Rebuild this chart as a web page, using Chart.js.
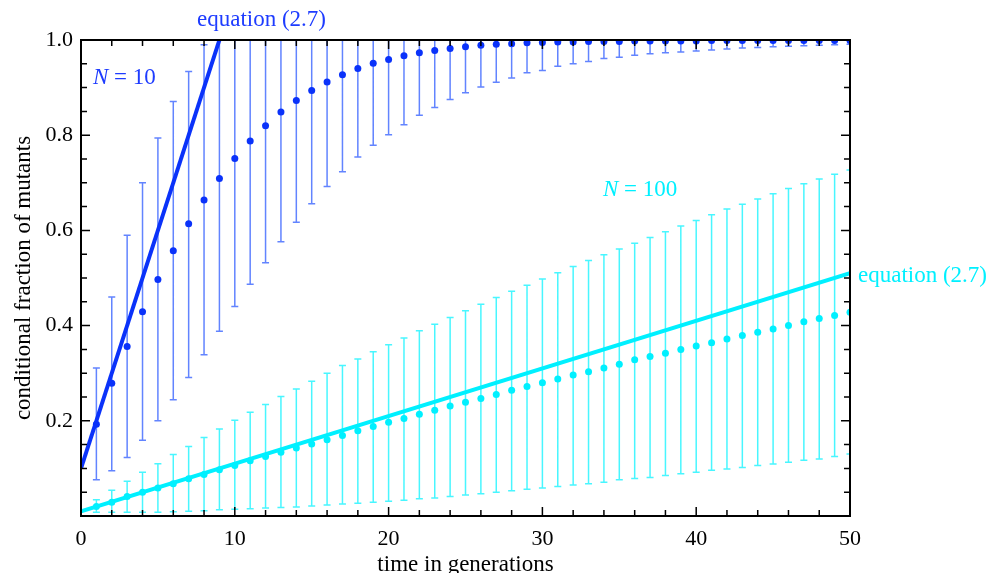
<!DOCTYPE html>
<html>
<head>
<meta charset="utf-8">
<script src="https://cdn.jsdelivr.net/npm/chart.js@4.4.1/dist/chart.umd.min.js"></script>
<style>
  html, body { margin: 0; padding: 0; background: #fff; }
  #wrap { width: 992px; height: 573px; position: relative; }
</style>
</head>
<body>
<div id="wrap"><canvas id="fractionCanvas"></canvas></div>
<script>
// generations (x values of the simulated points)
const generations = [1, 2, 3, 4, 5, 6, 7, 8, 9, 10, 11, 12, 13, 14, 15, 16, 17, 18, 19, 20,
    21, 22, 23, 24, 25, 26, 27, 28, 29, 30, 31, 32, 33, 34, 35, 36, 37, 38, 39, 40,
    41, 42, 43, 44, 45, 46, 47, 48, 49, 50];

// N = 10 : mean and error bar ends
const n10Mean = [0.193, 0.279, 0.356, 0.429, 0.497, 0.557, 0.614, 0.664, 0.709, 0.751,
    0.788, 0.820, 0.849, 0.873, 0.894, 0.912, 0.927, 0.940, 0.951, 0.959,
    0.967, 0.973, 0.978, 0.982, 0.986, 0.989, 0.991, 0.992, 0.994, 0.995,
    0.996, 0.996, 0.997, 0.997, 0.997, 0.998, 0.998, 0.998, 0.998, 0.998,
    0.999, 0.999, 0.999, 0.999, 0.999, 0.999, 0.999, 0.999, 0.999, 0.999];
const n10Low = [0.076, 0.095, 0.123, 0.159, 0.200, 0.244, 0.291, 0.339, 0.388, 0.440,
    0.487, 0.532, 0.576, 0.617, 0.656, 0.692, 0.723, 0.754, 0.779, 0.801,
    0.822, 0.842, 0.858, 0.875, 0.889, 0.901, 0.911, 0.920, 0.931, 0.936,
    0.945, 0.950, 0.955, 0.961, 0.964, 0.968, 0.971, 0.973, 0.975, 0.977,
    0.979, 0.981, 0.983, 0.984, 0.986, 0.987, 0.988, 0.989, 0.990, 0.991];
const n10High = [0.311, 0.460, 0.590, 0.700, 0.794, 0.871, 0.934, 0.990, 1, 1,
    1, 1, 1, 1, 1, 1, 1, 1, 1, 1, 1, 1, 1, 1, 1, 1, 1, 1, 1, 1,
    1, 1, 1, 1, 1, 1, 1, 1, 1, 1, 1, 1, 1, 1, 1, 1, 1, 1, 1, 1];

// N = 100 : mean and error bar ends
const n100Mean = [0.020, 0.029, 0.041, 0.050, 0.059, 0.068, 0.078, 0.087, 0.097, 0.106,
    0.116, 0.125, 0.134, 0.143, 0.151, 0.160, 0.169, 0.179, 0.188, 0.197,
    0.205, 0.214, 0.222, 0.231, 0.239, 0.247, 0.255, 0.264, 0.272, 0.280,
    0.288, 0.296, 0.303, 0.311, 0.319, 0.328, 0.335, 0.342, 0.350, 0.357,
    0.364, 0.372, 0.379, 0.386, 0.393, 0.400, 0.408, 0.415, 0.421, 0.428];
const n100Low = [0.008, 0.008, 0.008, 0.008, 0.008, 0.009, 0.010, 0.011, 0.013, 0.014,
    0.015, 0.017, 0.018, 0.019, 0.021, 0.023, 0.025, 0.027, 0.029, 0.031,
    0.033, 0.036, 0.038, 0.041, 0.044, 0.047, 0.050, 0.053, 0.056, 0.059,
    0.062, 0.065, 0.068, 0.071, 0.076, 0.079, 0.081, 0.085, 0.089, 0.092,
    0.096, 0.099, 0.102, 0.106, 0.109, 0.113, 0.117, 0.120, 0.125, 0.130];
const n100High = [0.034, 0.054, 0.073, 0.092, 0.110, 0.129, 0.146, 0.165, 0.183, 0.201,
    0.218, 0.234, 0.251, 0.267, 0.283, 0.300, 0.316, 0.330, 0.345, 0.360,
    0.374, 0.389, 0.403, 0.417, 0.431, 0.445, 0.459, 0.472, 0.485, 0.498,
    0.511, 0.524, 0.537, 0.549, 0.561, 0.573, 0.585, 0.597, 0.609, 0.621,
    0.633, 0.645, 0.655, 0.666, 0.677, 0.688, 0.698, 0.708, 0.718, 0.727];

// equation (2.7) lines, end points
const eqN10 = [{x: 0, y: 0.10}, {x: 9, y: 1.0}];
const eqN100 = [{x: 0, y: 0.01}, {x: 50, y: 0.51}];

// tick labels
const xTickValues = [0, 10, 20, 30, 40, 50];
const yTickValues = [0.2, 0.4, 0.6, 0.8, 1.0];

const BLUE = 'rgb(10, 50, 250)';
const BLUE_BAR = 'rgba(70, 110, 255, 0.85)';
const CYAN = 'rgb(0, 240, 255)';
const CYAN_BAR = 'rgba(40, 245, 255, 0.85)';
const SERIF = "'Liberation Serif', 'DejaVu Serif', serif";

function toPoints(ys) {
    return generations.map((t, i) => ({x: t, y: ys[i]}));
}

function drawErrorBars(ctx, xs, ys, low, high, color) {
    ctx.strokeStyle = color;
    ctx.lineWidth = 1.5;
    ctx.beginPath();
    generations.forEach((t, i) => {
        const px = xs.getPixelForValue(t);
        const y0 = ys.getPixelForValue(low[i]);
        const y1 = ys.getPixelForValue(high[i]);
        ctx.moveTo(px, y0); ctx.lineTo(px, y1);
        ctx.moveTo(px - 3.5, y0); ctx.lineTo(px + 3.5, y0);
        ctx.moveTo(px - 3.5, y1); ctx.lineTo(px + 3.5, y1);
    });
    ctx.stroke();
}

const errorBarsPlugin = {
    id: 'errorBars',
    beforeDatasetsDraw(chart) {
        const {ctx, chartArea: a, scales: {x, y}} = chart;
        ctx.save();
        ctx.beginPath();
        ctx.rect(a.left, a.top, a.right - a.left, a.bottom - a.top);
        ctx.clip();
        drawErrorBars(ctx, x, y, n100Low, n100High, CYAN_BAR);
        drawErrorBars(ctx, x, y, n10Low, n10High, BLUE_BAR);
        ctx.restore();
    }
};

// box with inward ticks on all four sides, plus the text labels
const framePlugin = {
    id: 'frame',
    afterDraw(chart) {
        const {ctx, chartArea: a, scales: {x, y}} = chart;
        ctx.save();
        ctx.strokeStyle = '#000';
        ctx.lineWidth = 1.5;
        ctx.beginPath();
        for (let v = 2; v < 50; v += 2) {
            const len = v % 10 === 0 ? 9 : 6;
            const px = x.getPixelForValue(v);
            ctx.moveTo(px, a.bottom); ctx.lineTo(px, a.bottom - len);
            ctx.moveTo(px, a.top); ctx.lineTo(px, a.top + len);
        }
        for (let k = 1; k < 20; k++) {
            const len = k % 4 === 0 ? 9 : 6;
            const py = y.getPixelForValue(k * 0.05);
            ctx.moveTo(a.left, py); ctx.lineTo(a.left + len, py);
            ctx.moveTo(a.right, py); ctx.lineTo(a.right - len, py);
        }
        ctx.stroke();
        ctx.lineWidth = 2;
        ctx.strokeRect(a.left, a.top, a.right - a.left, a.bottom - a.top);

        ctx.textBaseline = 'middle';
        ctx.textAlign = 'left';
        ctx.font = '23px ' + SERIF;
        ctx.fillStyle = 'rgb(30, 60, 255)';
        ctx.fillText('equation (2.7)', 197, 20);
        ctx.fillStyle = CYAN;
        ctx.fillText('equation (2.7)', x.getPixelForValue(50) + 8, y.getPixelForValue(0.51) + 3);

        function nLabel(text, lx, ly, color) {
            ctx.fillStyle = color;
            ctx.font = 'italic 23px ' + SERIF;
            ctx.fillText('N', lx, ly);
            const w = ctx.measureText('N').width;
            ctx.font = '23px ' + SERIF;
            ctx.fillText(' = ' + text, lx + w, ly);
        }
        nLabel('10', 93, 78, 'rgb(30, 60, 255)');
        nLabel('100', 603, 190, CYAN);
        ctx.restore();
    }
};

const ctx = document.getElementById('fractionCanvas').getContext('2d');
const fractionChart = new Chart(ctx, {
    type: 'scatter',
    data: {
        datasets: [
            {
                type: 'line',
                label: 'equation (2.7), N = 10',
                data: eqN10,
                borderColor: BLUE,
                borderWidth: 4,
                pointRadius: 0,
                fill: false
            },
            {
                type: 'line',
                label: 'equation (2.7), N = 100',
                data: eqN100,
                borderColor: CYAN,
                borderWidth: 4,
                pointRadius: 0,
                fill: false
            },
            {
                label: 'N = 10',
                data: toPoints(n10Mean),
                backgroundColor: BLUE,
                borderWidth: 0,
                pointRadius: 3.5
            },
            {
                label: 'N = 100',
                data: toPoints(n100Mean),
                backgroundColor: CYAN,
                borderWidth: 0,
                pointRadius: 3.5
            }
        ]
    },
    plugins: [errorBarsPlugin, framePlugin],
    options: {
        responsive: true,
        maintainAspectRatio: false,
        animation: false,
        layout: {
            padding: {top: 40, right: 142, left: 0, bottom: 0}
        },
        plugins: {
            legend: {display: false},
            tooltip: {enabled: false}
        },
        scales: {
            x: {
                type: 'linear',
                min: 0,
                max: 50,
                afterBuildTicks: s => { s.ticks = xTickValues.map(v => ({value: v})); },
                afterFit: s => { s.height = 57; },
                grid: {display: false, drawTicks: false},
                border: {display: false},
                ticks: {
                    color: '#000',
                    padding: 10,
                    maxRotation: 0,
                    font: {family: SERIF, size: 22}
                },
                title: {
                    display: true,
                    text: 'time in generations',
                    color: '#000',
                    padding: {top: 0, bottom: -3},
                    font: {family: SERIF, size: 23, lineHeight: 1}
                }
            },
            y: {
                type: 'linear',
                min: 0,
                max: 1,
                afterBuildTicks: s => { s.ticks = yTickValues.map(v => ({value: v})); },
                afterFit: s => { s.width = 81; },
                grid: {display: false, drawTicks: false},
                border: {display: false},
                ticks: {
                    color: '#000',
                    padding: 8,
                    font: {family: SERIF, size: 22},
                    callback: v => v.toFixed(1)
                },
                title: {
                    display: true,
                    text: 'conditional fraction of mutants',
                    color: '#000',
                    padding: {top: 10, bottom: 0},
                    font: {family: SERIF, size: 23}
                }
            }
        }
    }
});
</script>
</body>
</html>
